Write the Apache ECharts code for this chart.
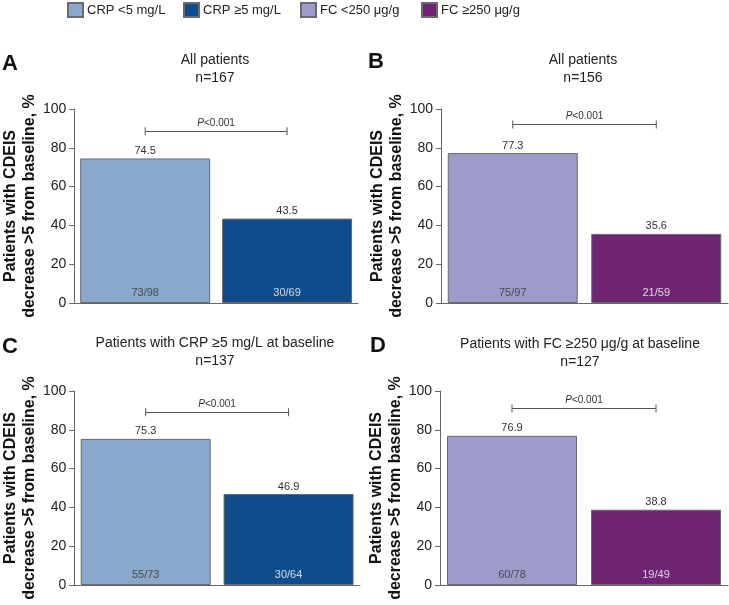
<!DOCTYPE html>
<html>
<head>
<meta charset="utf-8">
<script src="https://cdn.jsdelivr.net/npm/echarts@6/dist/echarts.min.js"></script>
<style>
html,body{margin:0;padding:0;background:#fff;}
#chart{width:729px;height:605px;}
</style>
</head>
<body>
<div id="chart"></div>
<script>
const categories = ['Low', 'High'];
const panelLetters = ['A', 'B', 'C', 'D'];
const panelTitles = ['All patients', 'All patients', 'Patients with CRP \u22655 mg/L at baseline', 'Patients with FC \u2265250 \u03bcg/g at baseline'];
const panelN = ['n=167', 'n=156', 'n=137', 'n=127'];
const lowValues = [74.5, 77.3, 75.3, 76.9];
const highValues = [43.5, 35.6, 46.9, 38.8];
const lowFractions = ['73/98', '75/97', '55/73', '60/78'];
const highFractions = ['30/69', '21/59', '30/64', '19/49'];
const pValueText = ['<0.001', '<0.001', '<0.001', '<0.001'];
const bracketLevels = [88.5, 92, 89, 91];
const legendNames = ['CRP <5 mg/L', 'CRP \u22655 mg/L', 'FC <250 \u03bcg/g', 'FC \u2265250 \u03bcg/g'];
const legendColors = ['#8aa8cb', '#0e4c8c', '#9e9bcb', '#6f2474'];
const panelPair = [[0, 1], [2, 3], [0, 1], [2, 3]];
const yAxisTitle = 'Patients with CDEIS\ndecrease >5 from baseline, %';

const FONT = '"Liberation Sans", Arial, Helvetica, sans-serif';
const grids = [
  {left: 73, top: 109, width: 285, height: 194},
  {left: 441, top: 109, width: 287, height: 194},
  {left: 72, top: 391, width: 288, height: 194},
  {left: 440, top: 391, width: 288, height: 194}
];
const titleCenters = [[215, 51], [583, 51], [215, 334], [580, 335]];
const letterPos = [[2, 53], [368, 51], [2, 336], [370, 335]];
const legendLefts = [67, 183, 300, 421];

const option = {
  animation: false,
  textStyle: {fontFamily: FONT},
  legend: legendNames.map((n, k) => ({
    data: [n],
    left: legendLefts[k], top: 2, padding: 0,
    icon: 'rect',
    itemWidth: 15, itemHeight: 14, itemGap: 0,
    selectedMode: false,
    textStyle: {fontFamily: FONT, fontSize: 13, color: '#222', padding: [0, 0, 0, -1]}
  })),
  title: [],
  grid: grids.map(g => Object.assign({containLabel: false}, g)),
  xAxis: [],
  yAxis: [],
  series: []
};

for (let i = 0; i < 4; i++) {
  option.title.push({
    text: panelTitles[i] + '\n' + panelN[i],
    left: titleCenters[i][0], top: titleCenters[i][1],
    textAlign: 'center', padding: 0,
    textStyle: {fontFamily: FONT, fontSize: 14, fontWeight: 'normal', color: '#222', lineHeight: 18}
  });
  option.title.push({
    text: panelLetters[i],
    left: letterPos[i][0], top: letterPos[i][1], padding: 0,
    textStyle: {fontFamily: FONT, fontSize: 22, fontWeight: 'bold', color: '#111'}
  });
  option.xAxis.push({
    type: 'category', gridIndex: i, data: categories,
    axisLine: {lineStyle: {color: '#666', width: 1}},
    axisTick: {show: false}, axisLabel: {show: false}
  });
  option.yAxis.push({
    type: 'value', gridIndex: i, min: 0, max: 100, interval: 20,
    splitLine: {show: false},
    axisLine: {show: true, lineStyle: {color: '#666', width: 1}},
    axisTick: {show: true, inside: false, length: 5, lineStyle: {color: '#666'}},
    axisLabel: {fontFamily: FONT, fontSize: 14, color: '#222', margin: 8},
    name: yAxisTitle, nameLocation: 'middle', nameRotate: 90, nameGap: 34,
    nameTextStyle: {fontFamily: FONT, fontSize: 16, fontWeight: 'bold', color: '#111', lineHeight: 19}
  });
  const [ci0, ci1] = panelPair[i];
  const barBase = {
    type: 'bar', xAxisIndex: i, yAxisIndex: i, barWidth: 130, barGap: '-100%',
    label: {show: true, position: 'top', distance: 2, fontSize: 11, color: '#333', fontFamily: FONT}
  };
  option.series.push(Object.assign({}, barBase, {
    name: legendNames[ci0],
    data: [lowValues[i], '-'],
    itemStyle: {color: legendColors[ci0], borderColor: '#6a6a6a', borderWidth: 1}
  }));
  option.series.push(Object.assign({}, barBase, {
    name: legendNames[ci1],
    data: ['-', highValues[i]],
    itemStyle: {color: legendColors[ci1], borderColor: '#6a6a6a', borderWidth: 1}
  }));
  // n/N labels at bar bottoms
  option.series.push({
    type: 'scatter', xAxisIndex: i, yAxisIndex: i, symbolSize: 0, silent: true, z: 5,
    data: [
      {value: [0, 0], name: lowFractions[i], label: {color: '#333'}},
      {value: [1, 0], name: highFractions[i], label: {color: '#fff'}}
    ],
    label: {show: true, position: 'top', distance: 5, fontSize: 11, fontFamily: FONT, formatter: p => p.name}
  });
  // significance bracket
  option.series.push({
    type: 'line', xAxisIndex: i, yAxisIndex: i, silent: true, z: 6,
    data: [bracketLevels[i], bracketLevels[i]],
    symbol: 'rect', symbolSize: [1, 8],
    itemStyle: {color: '#555'},
    lineStyle: {color: '#555', width: 0},
    markLine: {
      silent: true, symbol: 'none',
      lineStyle: {color: '#555', width: 1, type: 'solid'},
      label: {
        show: true, position: 'insideMiddleTop', distance: 3,
        formatter: '{i|P}' + pValueText[i],
        fontSize: 10, color: '#333', fontFamily: FONT,
        rich: {i: {fontStyle: 'italic', fontSize: 10, color: '#333', fontFamily: FONT}}
      },
      emphasis: {disabled: true},
      data: [[{coord: [0, bracketLevels[i]]}, {coord: [1, bracketLevels[i]]}]]
    }
  });
}

const chart = echarts.init(document.getElementById('chart'), null, {renderer: 'canvas'});
chart.setOption(option);
</script>
</body>
</html>
